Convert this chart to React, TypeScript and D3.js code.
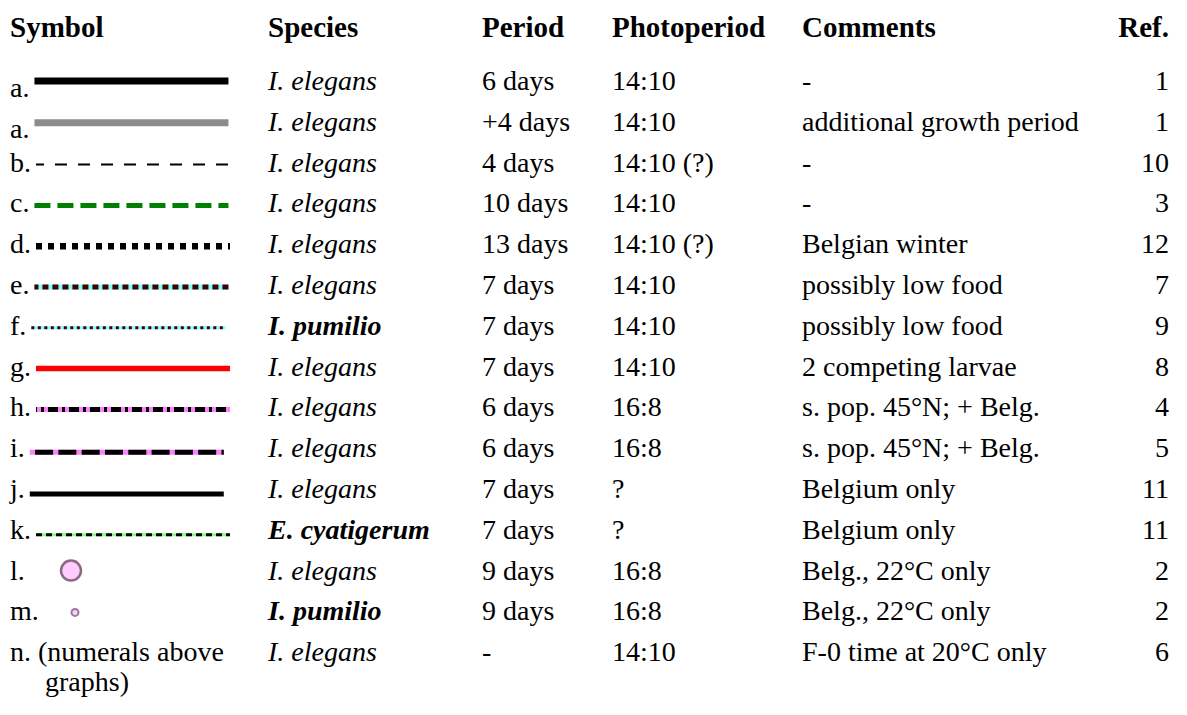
import React, { useEffect, useRef } from "react";
import * as d3 from "d3";

const headers = ["Symbol", "Species", "Period", "Photoperiod", "Comments", "Ref."];
const symbolLabels = ["a.", "a.", "b.", "c.", "d.", "e.", "f.", "g.", "h.", "i.", "j.", "k.", "l.", "m.", "n. (numerals above"];
const symbolLabelWrap = "graphs)";
const species = [
  "I. elegans", "I. elegans", "I. elegans", "I. elegans", "I. elegans", "I. elegans", "I. pumilio",
  "I. elegans", "I. elegans", "I. elegans", "I. elegans", "E. cyatigerum", "I. elegans", "I. pumilio", "I. elegans",
];
const boldSpecies = ["I. pumilio", "E. cyatigerum"];
const periods = ["6 days", "+4 days", "4 days", "10 days", "13 days", "7 days", "7 days", "7 days", "6 days", "6 days", "7 days", "7 days", "9 days", "9 days", "-"];
const photoperiods = ["14:10", "14:10", "14:10 (?)", "14:10", "14:10 (?)", "14:10", "14:10", "14:10", "16:8", "16:8", "?", "?", "16:8", "16:8", "14:10"];
const comments = [
  "-", "additional growth period", "-", "-", "Belgian winter", "possibly low food", "possibly low food",
  "2 competing larvae", "s. pop. 45°N; + Belg.", "s. pop. 45°N; + Belg.", "Belgium only", "Belgium only",
  "Belg., 22°C only", "Belg., 22°C only", "F-0 time at 20°C only",
];
const refs = ["1", "1", "10", "3", "12", "7", "9", "8", "4", "5", "11", "11", "2", "2", "6"];

// how each symbol is drawn (styles only)
type Layer = { color: string; width: number; dash?: string; offset?: number };
type Sym =
  | { kind: "line"; layers: Layer[]; dy: number; labelDy?: number }
  | { kind: "circle"; r: number; fill: string; stroke: string; sw: number; cx: number; dy: number }
  | { kind: "none" };

const symbolStyles: Sym[] = [
  { kind: "line", layers: [{ color: "#000", width: 7 }], dy: -9, labelDy: 7 },
  { kind: "line", layers: [{ color: "#8c8c8c", width: 7 }], dy: -8, labelDy: 7 },
  { kind: "line", layers: [{ color: "#000", width: 2, dash: "12 11", offset: 4 }], dy: -7 },
  { kind: "line", layers: [{ color: "#008000", width: 5, dash: "16 7" }], dy: -7 },
  { kind: "line", layers: [{ color: "#000", width: 6.5, dash: "6 6" }], dy: -7 },
  { kind: "line", layers: [{ color: "#80ffff", width: 5 }, { color: "#400000", width: 5, dash: "6 4", offset: -8 }], dy: -7 },
  { kind: "line", layers: [{ color: "#80ffff", width: 3 }, { color: "#400000", width: 3, dash: "3 3.5" }], dy: -7 },
  { kind: "line", layers: [{ color: "#ff0000", width: 5.5 }], dy: -7 },
  { kind: "line", layers: [{ color: "#ff80ff", width: 5 }, { color: "#000", width: 5, dash: "10 4 3 4", offset: -12 }], dy: -7 },
  { kind: "line", layers: [{ color: "#ff80ff", width: 5 }, { color: "#000", width: 5, dash: "18 5.3", offset: 18 }], dy: -5 },
  { kind: "line", layers: [{ color: "#000", width: 5 }], dy: -4 },
  { kind: "line", layers: [{ color: "#80ff80", width: 3 }, { color: "#000", width: 3, dash: "6 4" }], dy: -4 },
  { kind: "circle", r: 10, fill: "#ffccff", stroke: "#8a6a84", sw: 2.5, cx: 71, dy: -9 },
  { kind: "circle", r: 3.5, fill: "#ffccff", stroke: "#9a789a", sw: 2, cx: 75, dy: -8 },
  { kind: "none" },
];

const FONT = "'Liberation Serif', 'Times New Roman', serif";

const App = () => {
  const ref = useRef<SVGSVGElement>(null);

  useEffect(() => {
    const svg = d3.select(ref.current);
    svg.selectAll("*").remove();

    const width = 1187;
    const height = 715;
    svg.attr("width", width).attr("height", height);

    const n = species.length;
    const y = d3.scaleLinear().domain([0, n - 1]).range([90, 90 + 40.8 * (n - 1)]);
    const x = d3
      .scaleOrdinal<string, number>()
      .domain(headers)
      .range([10, 268, 482, 612, 802, 1169]);

    const g = svg.append("g").style("font-family", FONT).style("font-size", "28px").attr("fill", "#000");

    // header row
    g.selectAll(".head")
      .data(headers)
      .join("text")
      .attr("class", "head")
      .attr("x", (d) => x(d))
      .attr("y", 37)
      .attr("font-weight", "bold")
      .style("font-size", "29px")
      .attr("text-anchor", (d) => (d === "Ref." ? "end" : "start"))
      .text((d) => d);

    const idx = d3.range(n);

    const cols: [string, string[]][] = [
      ["Period", periods],
      ["Photoperiod", photoperiods],
      ["Comments", comments],
    ];
    cols.forEach(([col, vals]) => {
      g.selectAll(`.c-${col}`)
        .data(idx)
        .join("text")
        .attr("class", `c-${col}`)
        .attr("x", x(col))
        .attr("y", (i) => y(i))
        .text((i) => vals[i]);
    });

    g.selectAll(".sp")
      .data(idx)
      .join("text")
      .attr("class", "sp")
      .attr("x", x("Species"))
      .attr("y", (i) => y(i))
      .attr("font-style", "italic")
      .attr("font-weight", (i) => (boldSpecies.includes(species[i]) ? "bold" : "normal"))
      .text((i) => species[i]);

    g.selectAll(".ref")
      .data(idx)
      .join("text")
      .attr("class", "ref")
      .attr("x", x("Ref."))
      .attr("y", (i) => y(i))
      .attr("text-anchor", "end")
      .text((i) => refs[i]);

    // symbol column
    const labels = g
      .selectAll<SVGTextElement, number>(".sym")
      .data(idx)
      .join("text")
      .attr("class", "sym")
      .attr("x", x("Symbol"))
      .attr("y", (i) => {
        const s = symbolStyles[i];
        return y(i) + (s.kind === "line" && s.labelDy ? s.labelDy : 0);
      })
      .text((i) => symbolLabels[i]);

    g.append("text")
      .attr("x", x("Symbol") + 35)
      .attr("y", y(n - 1) + 30)
      .text(symbolLabelWrap);

    const lineLen = 194;
    labels.each(function (i) {
      const s = symbolStyles[i];
      const w = this.getComputedTextLength();
      if (s.kind === "line") {
        const x0 = x("Symbol") + w + 5;
        const sx = d3.scaleLinear().domain([0, 1]).range([x0, x0 + lineLen]);
        const ly = y(i) + s.dy;
        const path = d3.line<number>().x((t) => sx(t)).y(() => ly);
        s.layers.forEach((l) => {
          g.append("path")
            .attr("d", path([0, 1]))
            .attr("fill", "none")
            .attr("stroke", l.color)
            .attr("stroke-width", l.width)
            .attr("stroke-dasharray", l.dash ?? null)
            .attr("stroke-dashoffset", l.offset ?? null);
        });
      } else if (s.kind === "circle") {
        g.append("circle")
          .attr("cx", s.cx)
          .attr("cy", y(i) + s.dy)
          .attr("r", s.r)
          .attr("fill", s.fill)
          .attr("stroke", s.stroke)
          .attr("stroke-width", s.sw);
      }
    });
  }, []);

  return (
    <svg
      ref={ref}
      style={{ position: "absolute", left: 0, top: 0, background: "#fff" }}
    />
  );
};

export default App;
